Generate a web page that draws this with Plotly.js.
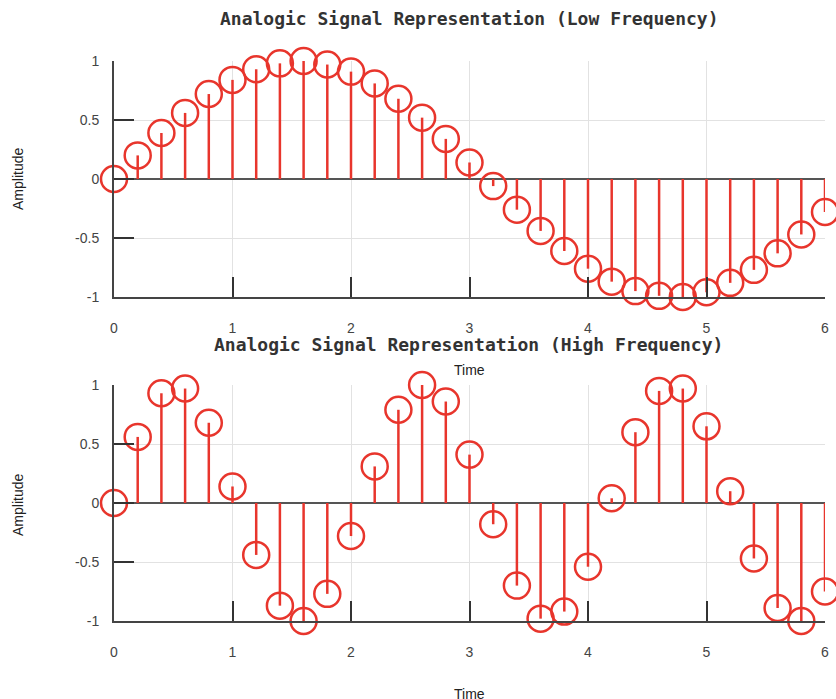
<!DOCTYPE html>
<html><head><meta charset="utf-8">
<script src="https://cdn.plot.ly/plotly-3.0.1.min.js"></script>
<style>html,body{margin:0;padding:0;background:#fff}#chart{width:836px;height:699px}</style>
</head><body><div id="chart"></div>
<script>
const time = [0,0.2,0.4,0.6,0.8,1.0,1.2,1.4,1.6,1.8,2.0,2.2,2.4,2.6,2.8,3.0,3.2,3.4,3.6,3.8,4.0,4.2,4.4,4.6,4.8,5.0,5.2,5.4,5.6,5.8,6.0];
const lowFreq = [0,0.2,0.39,0.56,0.72,0.84,0.93,0.98,1.0,0.97,0.91,0.81,0.68,0.52,0.34,0.14,-0.06,-0.26,-0.44,-0.61,-0.76,-0.87,-0.95,-0.99,-1.0,-0.96,-0.88,-0.77,-0.63,-0.47,-0.28];
const highFreq = [0,0.56,0.93,0.97,0.68,0.14,-0.44,-0.87,-1.0,-0.77,-0.28,0.31,0.79,1.0,0.86,0.41,-0.18,-0.7,-0.98,-0.92,-0.54,0.04,0.6,0.95,0.97,0.65,0.1,-0.47,-0.89,-1.0,-0.75];
const xTicks = [0,1,2,3,4,5,6];
const yTicks = [-1,-0.5,0,0.5,1];
const yTickText = ['-1','-0.5','0','0.5','1'];
const titles = ['Analogic Signal Representation (Low Frequency)','Analogic Signal Representation (High Frequency)'];

const RED = '#e8352c';
function stems(x, y, xa, ya){
  const sx=[], sy=[];
  x.forEach((v,i)=>{ sx.push(v,v,null); sy.push(0,y[i],null); });
  return {x:sx,y:sy,xaxis:xa,yaxis:ya,mode:'lines',line:{color:RED,width:2.5},hoverinfo:'skip',showlegend:false,cliponaxis:false};
}
function marks(x, y, xa, ya){
  return {x:x,y:y,xaxis:xa,yaxis:ya,mode:'markers',marker:{symbol:'circle-open',size:26,color:RED,line:{width:2.5,color:RED}},showlegend:false,cliponaxis:false};
}
const data = [stems(time,lowFreq,'x','y'),marks(time,lowFreq,'x','y'),stems(time,highFreq,'x2','y2'),marks(time,highFreq,'x2','y2')];

const W=836,H=699,L=114,R=11,T=61,B=78;
const pw=W-L-R, ph=H-T-B;
const px = v => (v-L)/pw;
const py = v => (H-B-v)/ph;

function xax(anchor){
  return {anchor:anchor,range:[0,6],tickvals:xTicks,ticks:'inside',ticklen:20,tickwidth:2,tickcolor:'#333',
    showline:true,linecolor:'#444',linewidth:2,showgrid:true,gridcolor:'#e2e2e2',gridwidth:1,zeroline:false,
    tickfont:{family:'Liberation Sans, Arial',size:14,color:'#444'},ticklabelstandoff:17,mirror:false};
}
function yax(anchor,domain){
  return {anchor:anchor,domain:domain,range:[-1,1],tickvals:yTicks,ticktext:yTickText,ticks:'inside',ticklen:20,tickwidth:2,tickcolor:'#333',
    showline:true,linecolor:'#444',linewidth:2,showgrid:true,gridcolor:'#e2e2e2',gridwidth:1,zeroline:true,zerolinecolor:'#555',zerolinewidth:1.5,
    tickfont:{family:'Liberation Sans, Arial',size:14,color:'#444'},ticklabelstandoff:10};
}
const topDom=[py(297),1], botDom=[0,py(385)];
const tfont={family:'DejaVu Sans Mono, monospace',size:18,color:'#333',weight:'bold'};
const lfont={family:'Liberation Sans, Arial',size:14,color:'#222'};
const layout = {
  width:W,height:H,margin:{l:L,r:R,t:T,b:B},paper_bgcolor:'#fff',plot_bgcolor:'#fff',
  xaxis:Object.assign(xax('y'),{domain:[0,1]}),
  yaxis:yax('x',topDom),
  xaxis2:Object.assign(xax('y2'),{domain:[0,1]}),
  yaxis2:yax('x2',botDom),
  annotations:[
    {text:titles[0],xref:'paper',yref:'paper',x:px(469),y:py(18),showarrow:false,font:tfont,xanchor:'center',yanchor:'middle'},
    {text:titles[1],xref:'paper',yref:'paper',x:px(468),y:py(344),showarrow:false,font:tfont,xanchor:'center',yanchor:'middle'},
    {text:'Time',xref:'paper',yref:'paper',x:px(469),y:py(370),showarrow:false,font:lfont,xanchor:'center',yanchor:'middle'},
    {text:'Time',xref:'paper',yref:'paper',x:px(469),y:py(694),showarrow:false,font:lfont,xanchor:'center',yanchor:'middle'},
    {text:'Amplitude',xref:'paper',yref:'paper',x:px(18),y:py(179),showarrow:false,font:lfont,textangle:-90,xanchor:'center',yanchor:'middle'},
    {text:'Amplitude',xref:'paper',yref:'paper',x:px(18),y:py(505),showarrow:false,font:lfont,textangle:-90,xanchor:'center',yanchor:'middle'}
  ]
};
Plotly.newPlot('chart',data,layout,{staticPlot:true});
</script></body></html>
